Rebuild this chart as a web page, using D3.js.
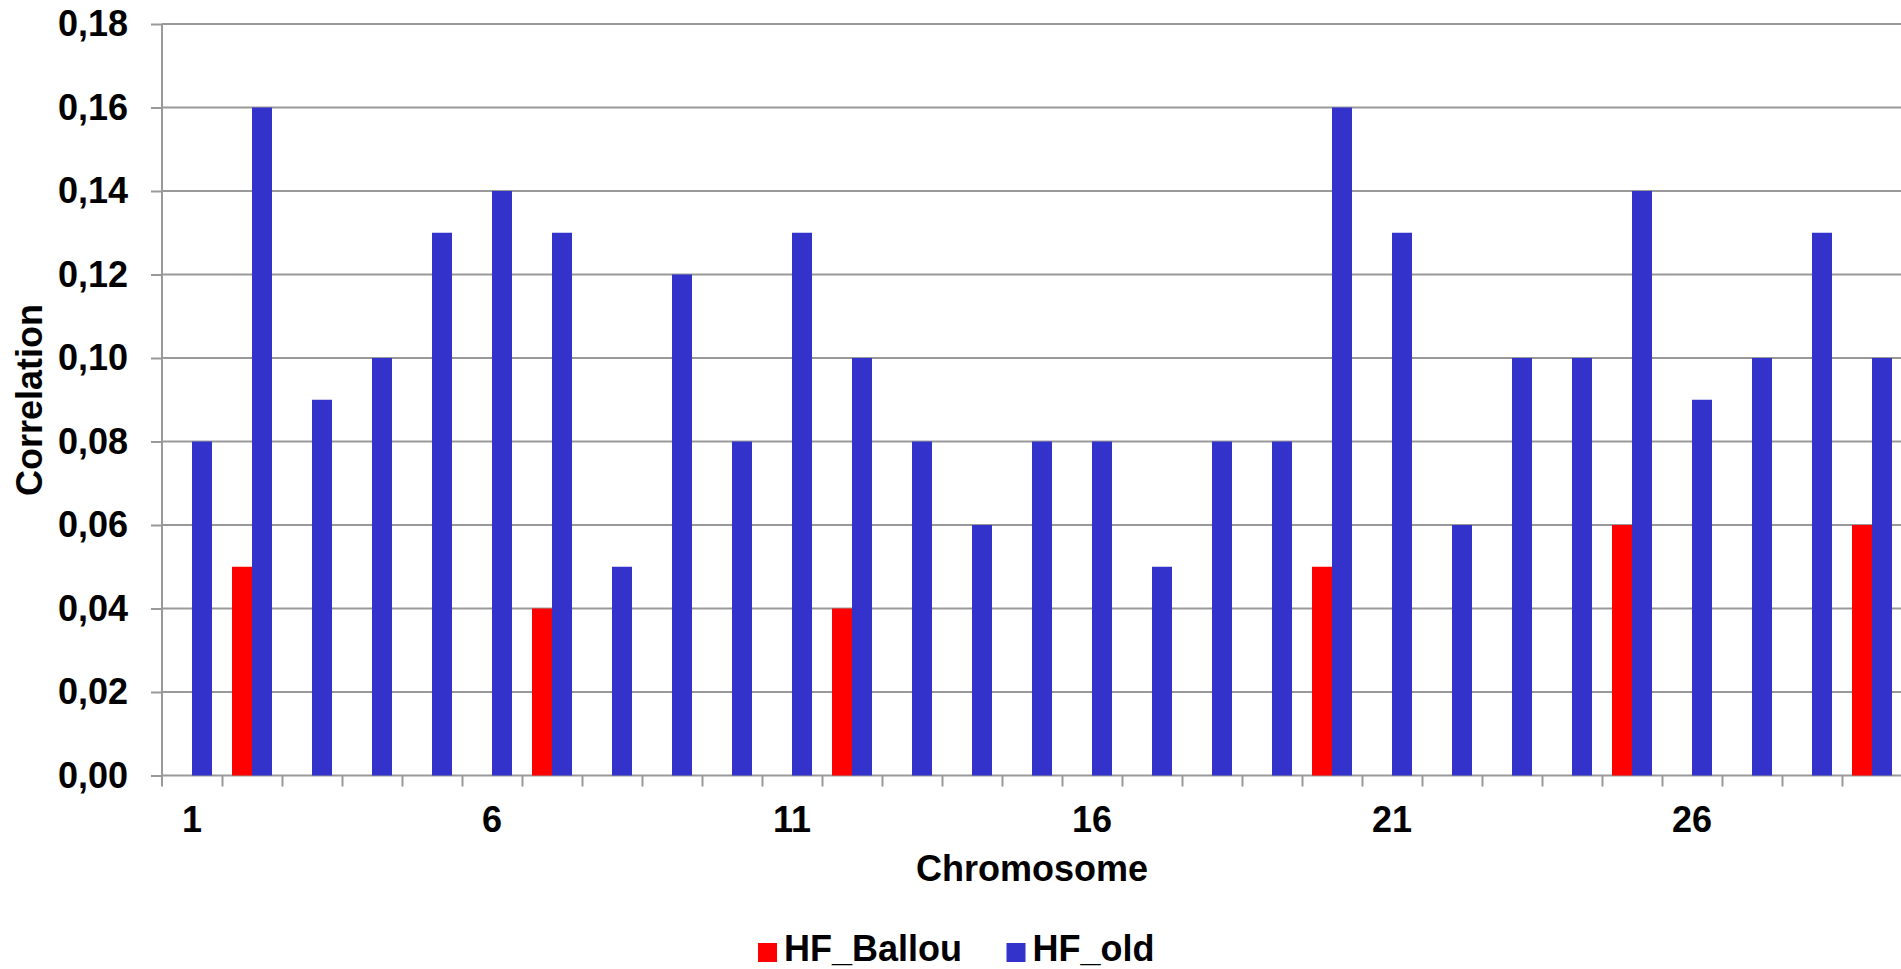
<!DOCTYPE html>
<html>
<head>
<meta charset="utf-8">
<script src="https://cdn.jsdelivr.net/npm/d3@7"></script>
<style>
  html, body { margin: 0; padding: 0; background: #fff; overflow: hidden; }
  text { font-family: "Liberation Sans", Arial, sans-serif; font-weight: bold; fill: #000; }
</style>
</head>
<body>
<div id="chart"></div>
<script>
// chromosome numbers 1..29
const chromosomes = ["1","2","3","4","5","6","7","8","9","10","11","12","13","14","15",
  "16","17","18","19","20","21","22","23","24","25","26","27","28","29"];
const shownLabels = ["1","6","11","16","21","26"];

const seriesNames = ["HF_Ballou", "HF_old"];
const seriesColors = ["#ff0000", "#3333cc"];

// HF_Ballou only present on a few chromosomes
const hfBallou = [0,0.05,0,0,0,0,0.04,0,0,0,0,0.04,0,0,0,0,0,0,0,0.05,0,0,0,0,0.06,0,0,0,0.06];
const hfOld = [0.08,0.16,0.09,0.10,0.13,0.14,0.13,0.05,0.12,0.08,0.13,0.10,0.08,0.06,0.08,
  0.08,0.05,0.08,0.08,0.16,0.13,0.06,0.10,0.10,0.14,0.09,0.10,0.13,0.10];

const yTicks = [0,0.02,0.04,0.06,0.08,0.10,0.12,0.14,0.16,0.18];

const W = 1901, H = 969;
const margin = { top: 24, right: -1, bottom: 193.5, left: 162 };
const width = W - margin.left - margin.right;
const height = H - margin.top - margin.bottom;

const svg = d3.select("#chart").append("svg")
  .attr("width", W)
  .attr("height", H);

const g = svg.append("g")
  .attr("transform", `translate(${margin.left},${margin.top})`);

const x = d3.scaleBand().domain(chromosomes).range([0, width]).padding(0);
const xInner = d3.scaleBand().domain(seriesNames).range([0, x.bandwidth()])
  .paddingInner(0).paddingOuter(0.5);
const y = d3.scaleLinear().domain([0, 0.18]).range([height, 0]);

// gridlines
g.append("g")
  .selectAll("line")
  .data(yTicks)
  .enter()
  .append("line")
  .attr("x1", 0)
  .attr("x2", width)
  .attr("y1", (d) => y(d))
  .attr("y2", (d) => y(d))
  .attr("stroke", "#999")
  .attr("stroke-width", 2);

// bars
const rows = chromosomes.map((c, i) => ({ chr: c, HF_Ballou: hfBallou[i], HF_old: hfOld[i] }));

g.selectAll(".grp")
  .data(rows)
  .enter()
  .append("g")
  .attr("class", "grp")
  .attr("transform", (d) => `translate(${x(d.chr)},0)`)
  .selectAll("rect")
  .data((d) => seriesNames.map((s, k) => ({ key: s, value: d[s], color: seriesColors[k] })))
  .enter()
  .append("rect")
  .filter((d) => d.value > 0)
  .attr("x", (d) => xInner(d.key))
  .attr("y", (d) => y(d.value))
  .attr("width", xInner.bandwidth())
  .attr("height", (d) => y(0) - y(d.value))
  .attr("fill", (d) => d.color);

// y axis
const yAxis = g.append("g")
  .call(d3.axisLeft(y).tickValues(yTicks).tickSize(11).tickPadding(23)
    .tickFormat((d) => d.toFixed(2).replace(".", ",")));
yAxis.select(".domain").remove();
yAxis.selectAll("line").attr("stroke", "#999").attr("stroke-width", 2);
yAxis.selectAll("text").style("font-size", "36px");

g.append("line")
  .attr("x1", 0).attr("x2", 0)
  .attr("y1", 0).attr("y2", height + 11)
  .attr("stroke", "#999").attr("stroke-width", 2);

// x axis tick marks at category boundaries
const xEdge = d3.scaleLinear().domain([0, chromosomes.length]).range([0, width]);
const xTickAxis = g.append("g")
  .attr("transform", `translate(0,${height})`)
  .call(d3.axisBottom(xEdge).tickValues(d3.range(1, chromosomes.length)).tickSize(11).tickFormat(""));
xTickAxis.select(".domain").remove();
xTickAxis.selectAll("line").attr("stroke", "#999").attr("stroke-width", 2);

// x labels
const xLabelAxis = g.append("g")
  .attr("transform", `translate(0,${height})`)
  .call(d3.axisBottom(x).tickValues(shownLabels).tickSize(0).tickPadding(31));
xLabelAxis.select(".domain").remove();
xLabelAxis.selectAll("text").style("font-size", "36px");

// axis titles
svg.append("text")
  .attr("transform", "translate(42,400) rotate(-90)")
  .attr("text-anchor", "middle")
  .style("font-size", "36px")
  .text("Correlation");

svg.append("text")
  .attr("x", margin.left + width / 2)
  .attr("y", 881)
  .attr("text-anchor", "middle")
  .style("font-size", "36px")
  .text("Chromosome");

// legend
const legend = svg.append("g");
const legendX = [758, 1006.5];
seriesNames.forEach((name, i) => {
  legend.append("rect")
    .attr("x", legendX[i])
    .attr("y", 943)
    .attr("width", 19)
    .attr("height", 19)
    .attr("fill", seriesColors[i]);
  legend.append("text")
    .attr("x", legendX[i] + 26)
    .attr("y", 961)
    .style("font-size", "36px")
    .text(name);
});
</script>
</body>
</html>
